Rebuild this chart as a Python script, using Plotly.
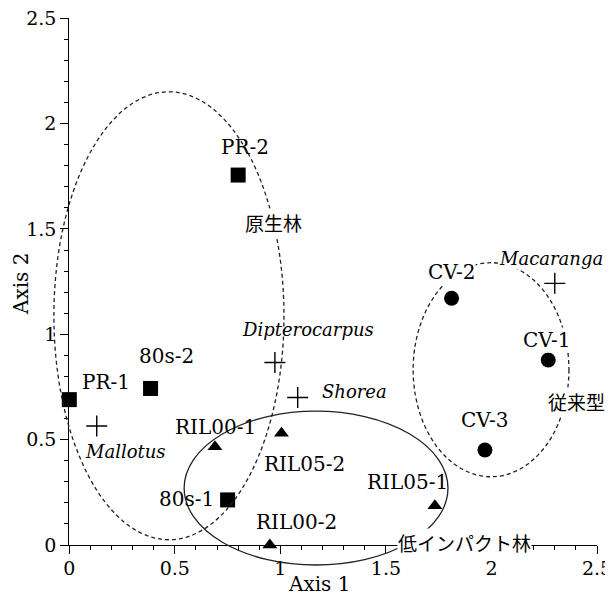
import plotly.graph_objects as go

# ---------------- data ----------------
sites = ["PR-1", "PR-2", "80s-1", "80s-2", "RIL00-1", "RIL00-2",
         "RIL05-1", "RIL05-2", "CV-1", "CV-2", "CV-3"]
site_type = ["PR", "PR", "80s", "80s", "RIL", "RIL", "RIL", "RIL", "CV", "CV", "CV"]
site_axis1 = [0.00, 0.80, 0.75, 0.385, 0.69, 0.95, 1.732, 1.005, 2.269, 1.811, 1.969]
site_axis2 = [0.69, 1.756, 0.214, 0.743, 0.466, 0.0, 0.186, 0.53, 0.878, 1.171, 0.451]

species = ["Mallotus", "Dipterocarpus", "Shorea", "Macaranga"]
sp_axis1 = [0.13, 0.974, 1.082, 2.30]
sp_axis2 = [0.565, 0.866, 0.70, 1.242]

groups = ["原生林", "低インパクト林", "従来型"]
grp_cx = [0.472, 1.169, 1.998]
grp_cy = [1.088, 0.27, 0.832]
grp_rx = [0.545, 0.625, 0.369]
grp_ry = [1.063, 0.365, 0.508]
grp_label_x = [0.967, 1.87, 2.403]
grp_label_y = [1.53, 0.0, 0.68]

x_range = [0, 2.5]
y_range = [0, 2.5]

# ---------------- geometry ----------------
OFF = 8                      # page body margin
W, H = 613 - OFF, 601 - OFF
ML, MR, MT, MB = 32, 2, 2, 2
PW, PH = W - ML - MR, H - MT - MB
X0PX, X1PX = 69.3, 597.0     # page pixels of x=0 / x=2.5
Y0PX, Y1PX = 545.0, 18.3     # page pixels of y=0 / y=2.5


def ppx(p):
    return (p - OFF - ML) / PW


def ppy(p):
    return (H - MB - (p - OFF)) / PH


xdom = [ppx(X0PX), ppx(X1PX)]
ydom = [ppy(Y0PX), ppy(Y1PX)]


def ext(rng, dom):
    span = (rng[1] - rng[0]) / (dom[1] - dom[0])
    return [rng[0] - dom[0] * span, rng[1] + (1 - dom[1]) * span]


x2_range = ext(x_range, xdom)
y2_range = ext(y_range, ydom)

SERIF = "DejaVu Serif"
CJK = "Noto Sans CJK JP"
FS = 20
TFS = 19

sym_map = {"PR": "square", "80s": "square", "RIL": "triangle-up", "CV": "circle"}
size_map = {"PR": 15, "80s": 15, "RIL": 13, "CV": 15}

fig = go.Figure()

fig.add_trace(go.Scatter(
    x=site_axis1, y=site_axis2, mode="markers",
    marker=dict(symbol=[sym_map[t] for t in site_type],
                size=[size_map[t] for t in site_type],
                color="#000000", opacity=1, line=dict(width=0, color="#000000")),
    cliponaxis=False, showlegend=False, hoverinfo="skip"))

fig.add_trace(go.Scatter(
    x=sp_axis1, y=sp_axis2, mode="markers",
    marker=dict(symbol="cross-thin-open", size=15, color="#000000", opacity=1,
                line=dict(width=1.4, color="#000000")),
    cliponaxis=False, showlegend=False, hoverinfo="skip"))

# dummy trace to instantiate second (overlay) axes
fig.add_trace(go.Scatter(x=[None], y=[None], xaxis="x2", yaxis="y2",
                         showlegend=False, hoverinfo="skip"))

shapes = []
dashes = ["4px,3px", "solid", "4px,3px"]
for cx, cy, rx, ry, d in zip(grp_cx, grp_cy, grp_rx, grp_ry, dashes):
    shapes.append(dict(type="circle", xref="x2", yref="y2",
                       x0=cx - rx, x1=cx + rx, y0=cy - ry, y1=cy + ry,
                       line=dict(color="#222222", width=1.3, dash=d)))

site_off = {"PR-1": (37, 18), "PR-2": (7, 28), "80s-1": (-41, 1), "80s-2": (16, 32),
            "RIL00-1": (1, 20), "RIL00-2": (27, 23), "RIL05-1": (-27, 24),
            "RIL05-2": (23, -31), "CV-1": (-2, 20), "CV-2": (0, 26), "CV-3": (0, 30)}
opaque = {"CV-1", "CV-2"}
sp_off = {"Mallotus": (29, -26), "Dipterocarpus": (33, 33), "Shorea": (57, 6),
          "Macaranga": (-4, 25)}
grp_shift = {"原生林": 0, "低インパクト林": 3, "従来型": 0}

ann = []
for s, x, y in zip(sites, site_axis1, site_axis2):
    dx, dy = site_off[s]
    ann.append(dict(x=x, y=y, xref="x", yref="y", text=s, showarrow=False,
                    xanchor="center", yanchor="middle",
                    xshift=dx, yshift=dy, font=dict(family=SERIF, size=FS, color="black"),
                    bgcolor="white" if s in opaque else "rgba(0,0,0,0)", borderpad=0))
for s, x, y in zip(species, sp_axis1, sp_axis2):
    dx, dy = sp_off[s]
    ann.append(dict(x=x, y=y, xref="x", yref="y", text="<i>%s</i>" % s, showarrow=False,
                    xanchor="center", yanchor="middle",
                    xshift=dx, yshift=dy, font=dict(family=SERIF, size=18, color="black"),
                    bgcolor="white" if s == "Macaranga" else "rgba(0,0,0,0)", borderpad=0))
for g, x, y in zip(groups, grp_label_x, grp_label_y):
    ann.append(dict(x=x, y=y, xref="x", yref="y", text=g, showarrow=False,
                    xanchor="center", yanchor="middle", yshift=grp_shift[g],
                    font=dict(family=CJK, size=19, color="black"),
                    bgcolor="white", borderpad=0))

ann.append(dict(x=ppx(319), y=ppy(584), xref="paper", yref="paper", text="Axis 1",
                xanchor="center", yanchor="middle",
                showarrow=False, font=dict(family=SERIF, size=FS, color="black")))
ann.append(dict(x=ppx(21), y=ppy(284), xref="paper", yref="paper", text="Axis 2",
                xanchor="center", yanchor="middle",
                textangle=-90, showarrow=False,
                font=dict(family=SERIF, size=FS, color="black")))

axis_common = dict(showline=True, linecolor="black", linewidth=1.3, ticks="outside",
                   ticklen=8, tickwidth=1.3, tickcolor="black", dtick=0.5, tick0=0,
                   showgrid=False, zeroline=False, ticklabeloverflow="allow",
                   tickfont=dict(family=SERIF, size=TFS, color="black"),
                   minor=dict(dtick=0.1, ticks="outside", ticklen=4, tickwidth=1,
                              tickcolor="black", showgrid=False))

fig.update_layout(
    template="none",
    width=W, height=H, margin=dict(l=ML, r=MR, t=MT, b=MB),
    paper_bgcolor="white", plot_bgcolor="rgba(0,0,0,0)",
    xaxis=dict(range=x_range, domain=xdom, anchor="y", ticklabelstandoff=-2, **axis_common),
    yaxis=dict(range=y_range, domain=ydom, anchor="x", ticklabelstandoff=0, **axis_common),
    xaxis2=dict(range=x2_range, domain=[0, 1], anchor="y2", visible=False, fixedrange=True),
    yaxis2=dict(range=y2_range, domain=[0, 1], anchor="x2", visible=False, fixedrange=True),
    shapes=shapes, annotations=ann, showlegend=False,
)

fig.write_html("out.html")
